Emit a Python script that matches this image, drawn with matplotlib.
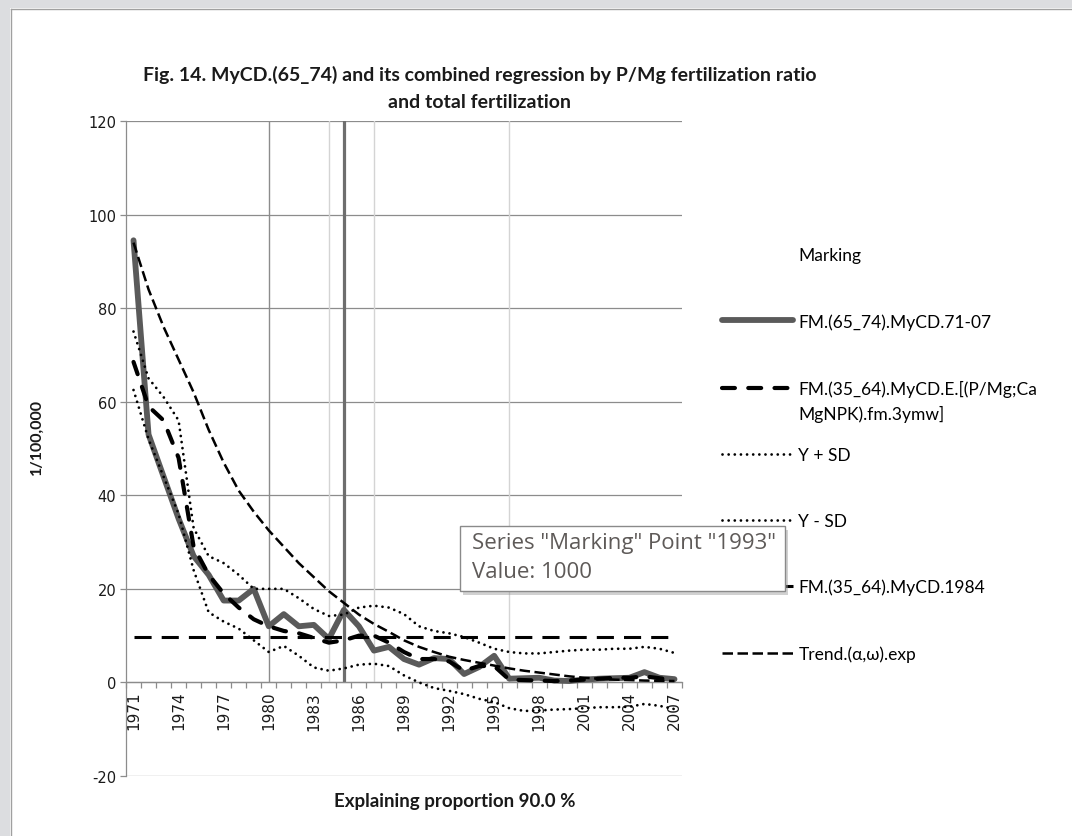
import matplotlib
matplotlib.use("Agg")
import matplotlib.pyplot as plt
from matplotlib.lines import Line2D
from matplotlib.patches import Rectangle

# ---- data (1/100,000) ----
years = list(range(1971, 2008))
mycd_7107 = [94.5, 53.0, 44.0, 35.0, 27.0, 23.0, 17.5, 17.5, 20.0, 12.0,
             14.6, 12.0, 12.3, 9.3, 15.5, 12.0, 6.8, 7.6, 5.0, 3.8,
             5.2, 5.0, 1.8, 3.3, 5.7, 0.8, 0.9, 1.0, 0.4, 0.3,
             0.6, 0.8, 0.9, 1.0, 2.2, 1.0, 0.7]
regression = [68.5, 59.0, 56.0, 48.0, 29.0, 23.0, 19.0, 16.0, 13.5, 12.0,
              11.0, 10.5, 9.5, 8.5, 9.0, 10.0, 10.0, 8.5, 6.5, 5.0,
              5.0, 4.5, 2.5, 3.5, 3.5, 0.6, 0.5, 0.4, 0.3, 0.4,
              0.6, 0.8, 1.0, 1.0, 1.3, 0.9, 0.5]
y_plus_sd = [75.0, 65.0, 61.0, 56.0, 33.0, 27.0, 25.5, 23.0, 20.0, 20.0,
             20.0, 18.0, 15.7, 14.2, 14.5, 16.0, 16.4, 16.0, 14.6, 12.0,
             11.0, 10.5, 9.7, 8.5, 7.2, 6.5, 6.2, 6.2, 6.5, 6.8,
             7.0, 7.0, 7.2, 7.2, 7.6, 7.2, 6.3]
y_minus_sd = [62.5, 52.0, 44.0, 36.0, 24.0, 15.0, 13.0, 11.5, 9.0, 6.5,
              7.8, 5.7, 3.2, 2.5, 3.0, 3.8, 4.0, 3.5, 1.5, 0.0,
              -1.2, -1.8, -2.5, -3.5, -4.2, -5.5, -6.1, -6.0, -5.8, -5.7,
              -5.5, -5.3, -5.3, -5.2, -4.6, -5.0, -5.7]
level_1984 = [9.8] * len(years)
trend_exp = [94.0, 84.0, 76.0, 69.0, 62.0, 54.0, 47.0, 41.0, 36.5, 32.5,
             29.0, 25.5, 22.5, 19.5, 17.0, 14.5, 12.5, 10.8, 9.0, 7.6,
             6.5, 5.5, 4.8, 4.2, 3.6, 3.0, 2.5, 2.1, 1.7, 1.3,
             1.0, 0.8, 0.6, 0.5, 0.4, 0.35, 0.3]
marking_years = [1980, 1984, 1985, 1987, 1996]
marking_value = 1000

labels = ["Marking",
          "FM.(65_74).MyCD.71-07",
          "FM.(35_64).MyCD.E.[(P/Mg;Ca",
          "Y + SD",
          "Y - SD",
          "FM.(35_64).MyCD.1984",
          "Trend.(\u03b1,\u03c9).exp"]
label_cont = "MgNPK).fm.3ymw]"

W, H = 1072, 837


def fx(px):
    return px / W


def fy(py):
    return 1 - py / H


plt.rcParams['font.family'] = ['Lato', 'DejaVu Sans']
plt.rcParams['axes.unicode_minus'] = False

fig = plt.figure(figsize=(W / 100, H / 100), dpi=100)
fig.patch.set_facecolor('white')

# window frame (gray band top / left)
fig.patches.append(Rectangle((0, fy(9)), 1, 9 / H, transform=fig.transFigure,
                             facecolor='#dcdde0', edgecolor='none'))
fig.patches.append(Rectangle((0, 0), fx(10), 1, transform=fig.transFigure,
                             facecolor='#dcdde0', edgecolor='none'))
fig.add_artist(Line2D([fx(10.5), fx(10.5)], [0, fy(9.5)], color='#a0a0a0', lw=1))
fig.add_artist(Line2D([fx(10.5), 1], [fy(9.5), fy(9.5)], color='#a0a0a0', lw=1))

ax = fig.add_axes([fx(126), fy(777), (682 - 126) / W, (777 - 122) / H])
x = list(range(len(years)))

# marking series shown as vertical bars
mark_x = [years.index(y) for y in marking_years]
ax.vlines(mark_x, 0, marking_value,
          colors=['#8c8c8c', '#d4d4d4', '#6e6e6e', '#d4d4d4', '#d4d4d4'],
          linewidths=[1.0, 1.0, 2.3, 1.0, 1.0], zorder=1)

l_mark = Line2D([], [], color='none')
l1, = ax.plot(x, mycd_7107, color='#5a5a5a', lw=4.2,
              solid_capstyle='round', solid_joinstyle='round', zorder=3)
l2, = ax.plot(x, regression, color='black', lw=3.0, dashes=(3.1, 3.2),
              dash_capstyle='round', zorder=4)
l3, = ax.plot(x, y_plus_sd, color='black', lw=2.0, dashes=(0.01, 2.2),
              dash_capstyle='round', zorder=4)
l4, = ax.plot(x, y_minus_sd, color='black', lw=2.0, dashes=(0.01, 2.2),
              dash_capstyle='round', zorder=4)
l5, = ax.plot(x, level_1984, color='black', lw=2.2, dashes=(5.6, 3.3), zorder=4)
l6, = ax.plot(x, trend_exp, color='black', lw=1.8, dashes=(4.2, 1.8), zorder=4)

ax.set_xlim(-0.5, len(years) - 0.5)
ax.set_ylim(-20, 120)
ax.set_yticks(range(-20, 121, 20))
ax.yaxis.grid(True, color='#8c8c8c', lw=0.9)
ax.set_axisbelow(True)

ax.set_xticks(x[::3])
ax.set_xticklabels([str(y) for y in years[::3]])
ax.set_xticks([i - 0.5 for i in range(len(years) + 1)], minor=True)
ax.tick_params(axis='x', which='major', length=0, pad=6, labelrotation=90,
               labelsize=11, labelcolor='#1a1a1a', labelfontfamily='DejaVu Sans')
ax.tick_params(axis='x', which='minor', length=4, width=0.9, color='#8c8c8c')
ax.tick_params(axis='y', length=4, width=0.9, color='#8c8c8c', pad=3,
               labelsize=10.5, labelcolor='#1a1a1a', labelfontfamily='DejaVu Sans')

for s in ['top', 'right']:
    ax.spines[s].set_visible(False)
ax.spines['bottom'].set_position(('data', 0))
ax.spines['bottom'].set_color('#8c8c8c')
ax.spines['left'].set_color('#8c8c8c')
ax.spines['bottom'].set_linewidth(0.9)
ax.spines['left'].set_linewidth(0.9)

# titles
fig.text(fx(480), fy(75), "Fig. 14. MyCD.(65_74) and its combined regression by P/Mg fertilization ratio",
         ha='center', va='center', fontsize=14, fontweight='bold', color='#1a1a1a')
fig.text(fx(480), fy(103), "and total fertilization",
         ha='center', va='center', fontsize=14, fontweight='bold', color='#1a1a1a')
fig.text(fx(37), fy(437), "1/100,000", rotation=90, ha='center', va='center',
         fontsize=11.5, fontweight='bold', color='#1a1a1a')
fig.text(fx(455), fy(802), "Explaining proportion 90.0 %", ha='center', va='center',
         fontsize=13.5, fontweight='bold', color='#1a1a1a')

# legend
leg = fig.legend([l_mark, l1, l2, l3, l4, l5, l6], labels, loc='upper left',
                 bbox_to_anchor=(fx(722), fy(248)), frameon=False, borderpad=0,
                 borderaxespad=0, handlelength=4.1, handletextpad=0.3,
                 labelspacing=2.88, prop={'size': 12.5})
fig.canvas.draw()
bb = leg.get_texts()[2].get_window_extent()
fig.text(bb.x0 / W, ((bb.y0 + bb.y1) / 2 - 25) / H, label_cont, ha='left', va='center',
         fontsize=12.5)

# hover tooltip
fig.patches.append(Rectangle((fx(463), fy(596)), 325 / W, 65 / H, transform=fig.transFigure,
                             facecolor='#9a9a9a', alpha=0.45, edgecolor='none', zorder=10))
fig.patches.append(Rectangle((fx(460), fy(592)), 325 / W, 65 / H, transform=fig.transFigure,
                             facecolor='white', edgecolor='#8a8a8a', lw=1, zorder=10))
fig.text(fx(472), fy(543), 'Series "Marking" Point "1993"', ha='left', va='center',
         family='Open Sans', fontsize=16, color='#5e5a58', zorder=11)
fig.text(fx(472), fy(573), 'Value: 1000', ha='left', va='center',
         family='Open Sans', fontsize=16, color='#5e5a58', zorder=11)

fig.savefig('out.png', dpi=100, facecolor=fig.get_facecolor())
